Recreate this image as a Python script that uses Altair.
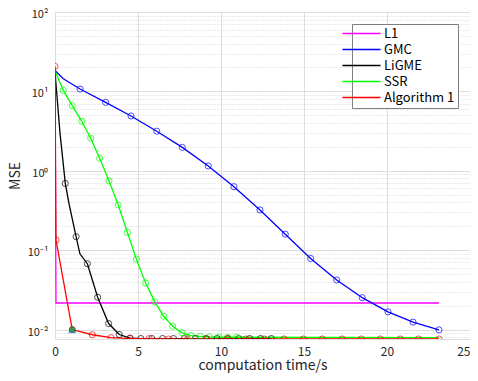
import altair as alt
import pandas as pd

FONT = "Noto Sans CJK JP"

series_names = ["L1", "GMC", "LiGME", "SSR", "Algorithm 1"]
series_colors = ["#ff00ff", "#0000ff", "#000000", "#00ff00", "#ff0000"]

# L1
l1_x = [0.0, 0.06, 23.13]
l1_y = [20.0, 0.0216, 0.0216]
l1_m = [False, False, False]

# GMC
gmc_x = [0.0, 0.5, 1.51, 3.05, 4.58, 6.13, 7.67, 9.23, 10.78, 12.35, 13.87,
         15.40, 16.97, 18.51, 20.06, 21.57, 23.13]
gmc_y = [18.3, 14.4, 10.7, 7.28, 4.90, 3.15, 1.97, 1.15, 0.63, 0.321, 0.159,
         0.0785, 0.0421, 0.0252, 0.0167, 0.0124, 0.0099]
gmc_m = [False, False] + [True] * 15

# LiGME
ligme_x = [0.0, 0.3, 0.62, 0.85, 1.27, 1.5, 1.95, 2.57, 3.23, 3.87, 4.52,
           5.17, 5.83, 6.48, 7.14, 7.79, 8.45, 9.10, 9.76, 10.41, 11.07,
           11.72, 12.38, 13.03]
ligme_y = [17.5, 3.0, 0.693, 0.38, 0.148, 0.09, 0.0675, 0.0255, 0.0119,
           0.00865, 0.0078, 0.0077, 0.0077, 0.0077, 0.0077, 0.0077, 0.0077,
           0.0077, 0.0077, 0.0077, 0.0077, 0.0077, 0.0077, 0.0077]
ligme_m = [False, False, True, False, True, False] + [True] * 18

# SSR
ssr_x = [0.0, 0.50, 1.04, 1.61, 2.15, 2.69, 3.25, 3.81, 4.36, 4.90, 5.46,
         6.01, 6.55, 7.09, 7.65, 8.19, 8.75, 9.30, 9.86, 10.40, 10.96, 23.13]
ssr_y = [18.0, 10.3, 6.61, 4.20, 2.57, 1.44, 0.748, 0.371, 0.168, 0.0771,
         0.0385, 0.0223, 0.0147, 0.0110, 0.0091, 0.0084, 0.0082, 0.0081,
         0.0080, 0.0080, 0.0080, 0.0079]
ssr_m = [False] + [True] * 20 + [False]

# Algorithm 1
alg_x = [0.0, 0.06, 1.04, 2.25, 3.37, 4.52, 5.67, 6.83, 7.98, 9.14, 10.38,
         11.50, 12.60, 13.80, 14.96, 16.10, 17.30, 18.45, 19.60, 20.80,
         21.90, 23.13]
alg_y = [20.6, 0.134, 0.0100, 0.0086, 0.0079, 0.0077, 0.0077, 0.0076,
         0.0076, 0.0076, 0.0076, 0.0076, 0.0076, 0.0076, 0.0076, 0.0076,
         0.0076, 0.0076, 0.0076, 0.0076, 0.0076, 0.0076]
alg_m = [True] * 22

# special markers on Algorithm 1
special_x = [1.04, 1.04]
special_y = [0.0100, 0.0100]
special_shape = ["triangle-up", "circle"]
special_fill = ["#4fc3f7", "#1a9a1a"]
special_stroke = ["#1e88e5", "#0b5d0b"]
special_size = [55, 28]

x_ticks = [0, 5, 10, 15, 20, 25]
y_major = [0.01, 0.1, 1, 10, 100]
y_minor = [m * 10.0 ** e for e in range(-3, 2) for m in range(2, 10)]
y_minor = [v for v in y_minor if 0.0076 <= v <= 100]

rows = []
for name, xs, ys, ms in [
    ("L1", l1_x, l1_y, l1_m),
    ("GMC", gmc_x, gmc_y, gmc_m),
    ("LiGME", ligme_x, ligme_y, ligme_m),
    ("SSR", ssr_x, ssr_y, ssr_m),
    ("Algorithm 1", alg_x, alg_y, alg_m),
]:
    for i, (xv, yv, mv) in enumerate(zip(xs, ys, ms)):
        rows.append({"series": name, "x": xv, "y": yv, "idx": i, "marker": mv})
df = pd.DataFrame(rows)

sp = pd.DataFrame({"x": special_x, "y": special_y, "shape": special_shape,
                   "fill": special_fill, "stroke": special_stroke,
                   "size": special_size, "k": [0, 1]})

xscale = alt.Scale(domain=[0, 25], nice=False, zero=False)
yscale = alt.Scale(type="log", domain=[0.0076, 100], nice=False)

label_expr = ("datum.value > 50 ? '10²' : datum.value > 5 ? '10¹' : "
              "datum.value > 0.5 ? '10⁰' : datum.value > 0.05 ? '10⁻¹' : '10⁻²'")

color = alt.Color(
    "series:N",
    scale=alt.Scale(domain=series_names, range=series_colors),
    legend=alt.Legend(
        title=None, orient="none", legendX=297, legendY=12,
        symbolType="M-5,0H5", symbolSize=58, symbolStrokeWidth=1.5,
        labelFontSize=13, labelFont=FONT, labelColor="#000000",
        fillColor="#ffffff", strokeColor="#7f7f7f", padding=3,
        rowPadding=2, labelOffset=16,
    ),
)

base_x = alt.X("x:Q", scale=xscale, axis=alt.Axis(
    values=x_ticks, title="computation time/s", grid=True, gridColor="#dedede",
    ticks=False, domain=False, labelPadding=7, labelFontSize=12,
    labelFlush=False,
    labelAlign=alt.ConditionalAxisLabelAlign(
        condition={"test": "datum.value >= 25", "value": "right"},
        value="center"),
    labelFont=FONT, labelColor="#262626", titleFont=FONT, titleFontSize=14,
    titleFontWeight="normal", titleColor="#262626", titleY=30,
    titleBaseline="alphabetic"))
base_y = alt.Y("y:Q", scale=yscale, axis=alt.Axis(
    values=y_major, title="MSE", grid=True, gridColor="#dedede", ticks=False,
    domain=False, labelExpr=label_expr, labelPadding=7, labelFontSize=11,
    labelOffset=2.5,
    labelFont=FONT, labelColor="#262626", titleFont=FONT, titleFontSize=14,
    titleFontWeight="normal", titleColor="#262626", titleX=-33,
    titleBaseline="bottom"))

lines = alt.Chart(df).mark_line(strokeWidth=1.3, clip=True).encode(
    x=base_x, y=base_y, color=color, order="idx:Q", detail="series:N")

points = alt.Chart(df).transform_filter("datum.marker").mark_point(
    shape="circle", filled=False, size=38, strokeWidth=1, clip=True).encode(
    x=alt.X("x:Q", scale=xscale, axis=None),
    y=alt.Y("y:Q", scale=yscale, axis=None),
    color=alt.Color("series:N", scale=alt.Scale(domain=series_names,
                                                 range=series_colors),
                    legend=None))

special = alt.Chart(sp).mark_point(filled=True, strokeWidth=1).encode(
    x=alt.X("x:Q", scale=xscale, axis=None),
    y=alt.Y("y:Q", scale=yscale, axis=None),
    shape=alt.Shape("shape:N", scale=None),
    fill=alt.Fill("fill:N", scale=None),
    stroke=alt.Stroke("stroke:N", scale=None),
    size=alt.Size("size:Q", scale=None),
    order="k:Q")

frame = alt.Chart(sp).mark_point(opacity=0).encode(
    x=alt.X("x:Q", scale=xscale, axis=alt.Axis(
        orient="top", labels=False, ticks=False, grid=False, domain=False,
        title=None)),
    y=alt.Y("y:Q", scale=yscale, axis=alt.Axis(
        orient="right", values=y_minor, labels=False, ticks=False, grid=True,
        gridColor="#d4d4d4", gridDash=[1, 2], domain=False, title=None)),
)

chart = alt.layer(frame, lines, points, special).resolve_axis(
    x="independent", y="independent"
).properties(
    width=415, height=327,
    autosize=alt.AutoSizeParams(type="none"),
    padding={"left": 47, "top": 4, "right": 0, "bottom": 34},
).configure_view(
    stroke="#262626", strokeWidth=1
).configure(background="#ffffff")

chart.save("out.html", embed_options={"renderer": "svg", "actions": False})
